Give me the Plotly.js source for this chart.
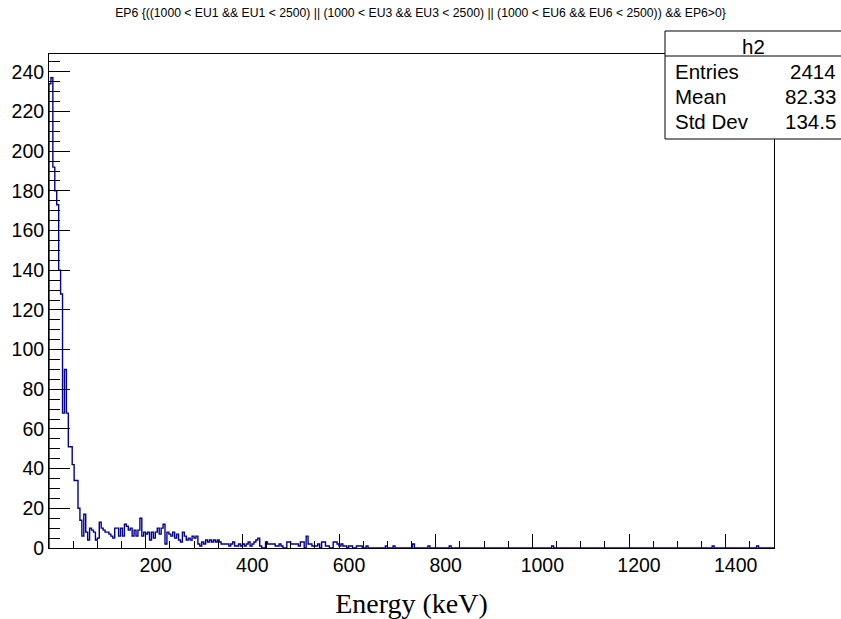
<!DOCTYPE html>
<html><head><meta charset="utf-8">
<script src="https://cdn.plot.ly/plotly-3.0.1.min.js"></script>
<style>html,body{margin:0;padding:0;background:#fff}#chart{width:841px;height:619px}</style>
</head><body><div id="chart"></div>
<script>
// ---- data ----
const binWidth = 4;          // keV per bin
const xMin = 0, xMax = 1500; // histogram range (keV)
const counts = [
  234,237,192,180,173,140,128,68,90,68,
  51,51,42,34,34,20,14,6,17,8,
  4,10,9,8,4,5,13,10,9,8,
  8,7,6,5,10,10,6,10,6,12,
  11,9,10,6,9,6,9,15,6,8,
  7,8,4,8,5,8,10,7,10,12,
  2,8,7,6,8,5,7,4,3,8,
  6,4,5,4,6,5,6,2,1,3,
  2,4,3,4,3,4,3,4,3,2,
  2,2,2,1,2,3,1,1,2,1,
  2,1,2,3,1,2,3,4,5,1,
  0,0,3,2,2,2,2,1,1,2,
  1,0,0,3,3,2,2,2,2,1,
  3,3,0,6,2,2,1,1,1,2,
  0,3,3,1,1,0,0,3,3,2,
  1,2,1,1,0,1,1,0,0,1,
  1,1,0,0,1,0,0,0,0,0,
  0,0,0,0,1,0,0,0,1,0,
  0,0,0,0,0,0,0,0,2,0,
  0,0,0,0,0,0,1,0,0,0,
  0,0,0,0,0,0,0,1,0,0,
  0,0,0,0,0,0,0,0,0,0,
  0,0,0,0,0,0,0,0,0,0,
  0,0,0,0,0,0,0,0,0,0,
  0,0,0,0,0,0,0,0,0,0,
  0,0,0,0,0,0,0,0,0,0,
  1,0,0,0,0,0,0,0,0,0,
  0,0,0,0,0,0,0,0,0,0,
  0,0,0,0,0,0,0,0,0,0,
  0,0,0,0,0,0,0,0,0,0,
  0,0,0,0,0,0,0,0,0,0,
  0,0,0,0,0,0,0,0,0,0,
  0,0,0,0,0,0,0,0,0,0,
  0,0,0,0,0,0,0,0,0,0,
  0,0,0,1,0,0,0,0,0,0,
  0,0,0,0,0,0,0,0,0,0,
  0,0,0,0,0,0,1,0,0,0,
  0,0,0,0,0
];
const xTickVals = [0, 200, 400, 600, 800, 1000, 1200, 1400];
const xTickText = ['', '200', '400', '600', '800', '1000', '1200', '1400'];
const yMax = 249;
const histName = 'h2';
const statsLabels = ['Entries', 'Mean', 'Std Dev'];
const statsValues = ['2414', '82.33', '134.5'];
const titleText = 'EP6 {((1000 &lt; EU1 &amp;&amp; EU1 &lt; 2500) || (1000 &lt; EU3 &amp;&amp; EU3 &lt; 2500) || (1000 &lt; EU6 &amp;&amp; EU6 &lt; 2500)) &amp;&amp; EP6&gt;0}';
const xTitle = 'Energy (keV)';

// ---- build step outline ----
const xs = [xMin], ys = [0];
counts.forEach((c, i) => { xs.push(xMin + i * binWidth); ys.push(c); });
xs.push(xMax); ys.push(counts[counts.length - 1]);

// ---- geometry ----
const W = 841, H = 619;
const M = {l: 49, r: 67, t: 54, b: 71};
const PW = W - M.l - M.r, PH = H - M.t - M.b;
const xp = px => (px - M.l) / PW;
const yp = py => (H - M.b - py) / PH;

const sans = 'Liberation Sans, Arial, Helvetica, sans-serif';
const statFont = {family: sans, size: 20.5, color: '#000'};

const annotations = [
  {text: histName, x: xp(753), y: yp(46.5), xref: 'paper', yref: 'paper', xanchor: 'center', yanchor: 'middle', showarrow: false, font: statFont}
];
const rowY = [71.5, 96.5, 121];
statsLabels.forEach((lab, i) => {
  annotations.push({text: lab, x: xp(673), y: yp(rowY[i]), xref: 'paper', yref: 'paper', xanchor: 'left', yanchor: 'middle', showarrow: false, font: statFont});
  annotations.push({text: statsValues[i], x: xp(838), y: yp(rowY[i]), xref: 'paper', yref: 'paper', xanchor: 'right', yanchor: 'middle', showarrow: false, font: statFont});
});

const layout = {
  width: W, height: H,
  margin: M,
  paper_bgcolor: '#fff', plot_bgcolor: '#fff',
  showlegend: false,
  title: {text: titleText, font: {family: sans, size: 12.2, color: '#000'}, x: 0.5, xanchor: 'center', y: 1 - 13 / H, yanchor: 'middle', yref: 'container'},
  xaxis: {
    range: [xMin, xMax], tickmode: 'array', tickvals: xTickVals, ticktext: xTickText,
    ticks: 'inside', ticklen: 14, tickwidth: 1, tickcolor: '#000',
    showline: true, linecolor: '#000', linewidth: 1, mirror: true,
    showgrid: false, zeroline: false, automargin: false,
    tickfont: {family: sans, size: 19.5, color: '#000'},
    ticklabelshift: 10,
    minor: {tickmode: 'linear', tick0: 0, dtick: 50, ticks: 'inside', ticklen: 7, tickwidth: 1, tickcolor: '#000', showgrid: false},
    title: {text: xTitle, font: {family: 'Liberation Serif, DejaVu Serif, serif', size: 28, color: '#000'}, standoff: 19}
  },
  yaxis: {
    range: [0, yMax], tickmode: 'linear', tick0: 0, dtick: 20,
    ticks: 'inside', ticklen: 21, tickwidth: 1, tickcolor: '#000',
    showline: true, linecolor: '#000', linewidth: 1, mirror: true,
    showgrid: false, zeroline: false, automargin: false,
    tickfont: {family: sans, size: 19.5, color: '#000'},
    minor: {tickmode: 'linear', tick0: 0, dtick: 5, ticks: 'inside', ticklen: 11, tickwidth: 1, tickcolor: '#000', showgrid: false}
  },
  shapes: [
    {type: 'rect', xref: 'paper', yref: 'paper', x0: xp(665), x1: xp(846), y0: yp(139), y1: yp(31), fillcolor: '#fff', line: {color: '#000', width: 1}, layer: 'above'},
    {type: 'line', xref: 'paper', yref: 'paper', x0: xp(665), x1: xp(846), y0: yp(56), y1: yp(56), line: {color: '#000', width: 1}, layer: 'above'}
  ],
  annotations: annotations
};

const trace = {
  type: 'scatter', mode: 'lines', x: xs, y: ys,
  line: {shape: 'hv', color: '#000099', width: 1.4},
  hoverinfo: 'skip', cliponaxis: true
};

Plotly.newPlot('chart', [trace], layout, {displayModeBar: false, staticPlot: true});
</script>
</body></html>
